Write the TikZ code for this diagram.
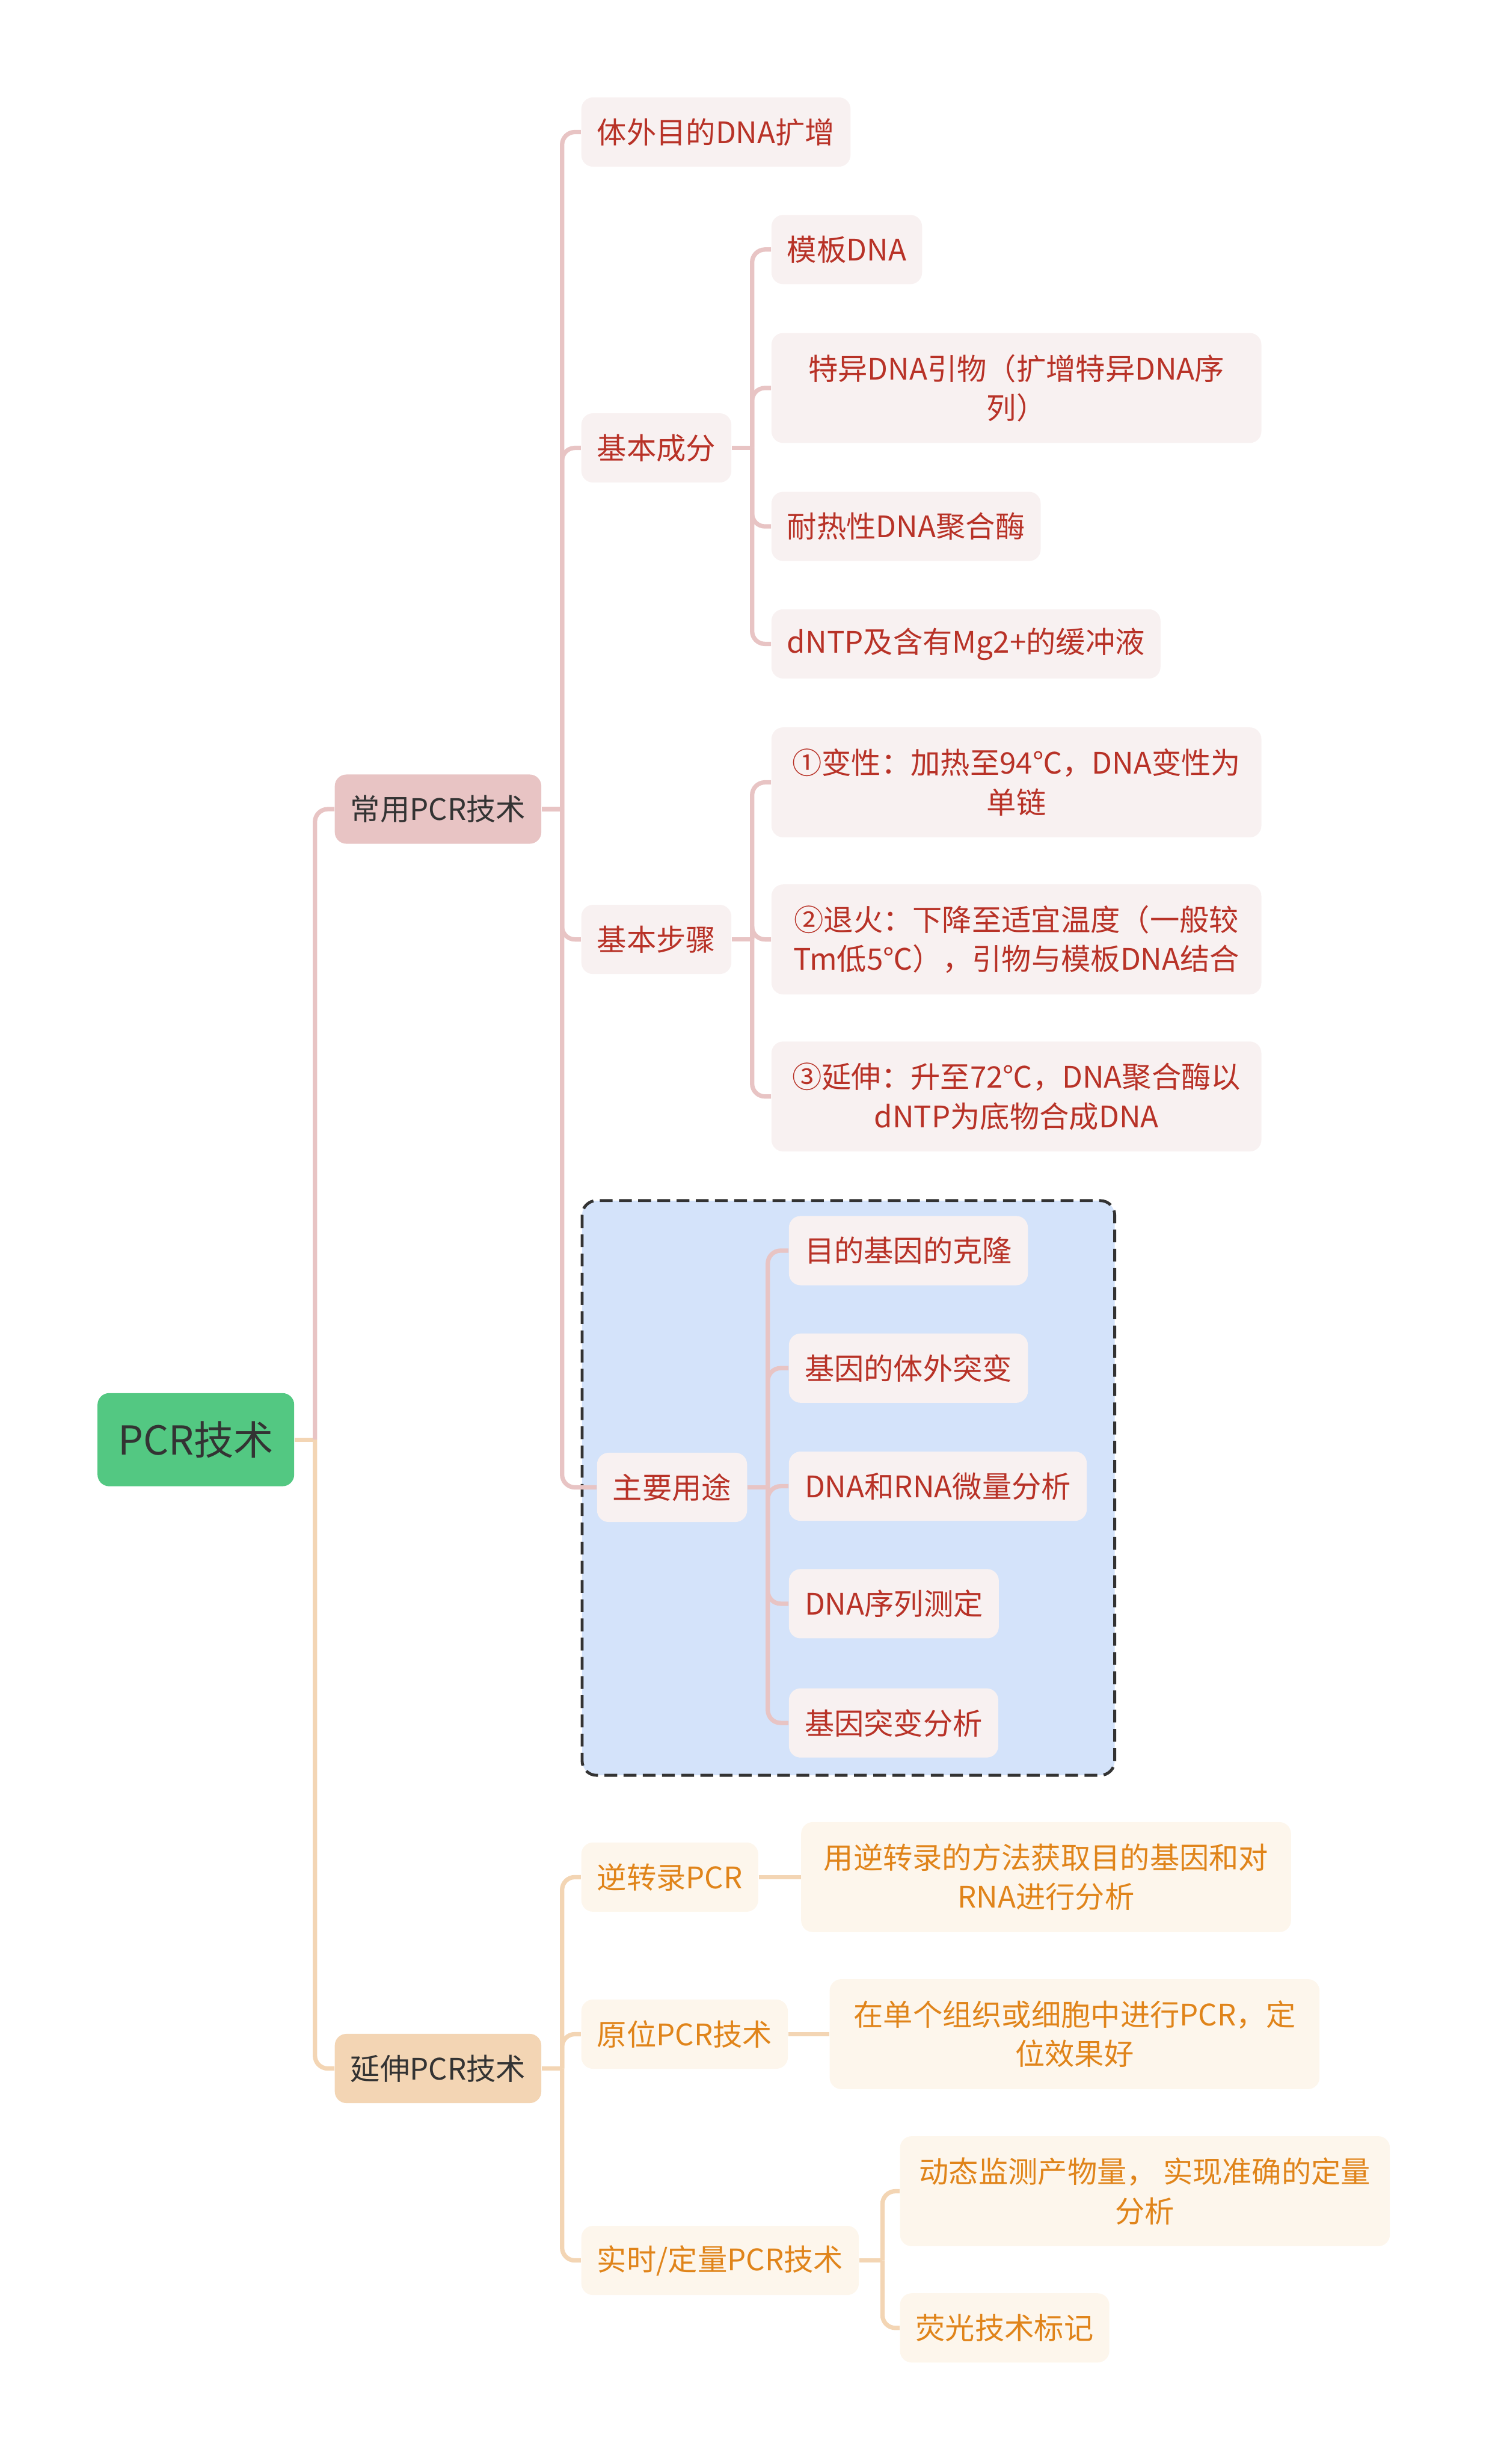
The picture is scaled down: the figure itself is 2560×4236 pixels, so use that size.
\documentclass[tikz,border=0pt]{standalone}
\usepackage{fontspec}
\setmainfont{Noto Sans CJK SC}
\usetikzlibrary{calc}

\begin{document}
\begin{tikzpicture}[x=0.01cm, y=-0.01cm]
    % Define colours
    \definecolor{rootFill}{HTML}{53C882}
    \definecolor{darkText}{HTML}{333333}
    \definecolor{pinkLine}{HTML}{E8C4C4}
    \definecolor{pinkLeaf}{HTML}{F8F1F1}
    \definecolor{pinkText}{HTML}{B83227}
    \definecolor{peachLine}{HTML}{F3D5B4}
    \definecolor{peachLeaf}{HTML}{FDF6EC}
    \definecolor{peachText}{HTML}{E0841A}
    \definecolor{boxFill}{HTML}{D4E3FA}

    % Define styles
    \tikzset{
        base/.style={rounded corners=0.2cm, inner xsep=0.27cm, inner ysep=0pt,
            minimum height=1.19cm, align=center, anchor=west,
            font=\fontsize{14.5}{19.2}\selectfont},
        rootNode/.style={base, fill=rootFill, text=darkText, minimum width=3.38cm,
            minimum height=1.6cm, font=\fontsize{19.5}{24}\selectfont},
        pinkMain/.style={base, fill=pinkLine, text=darkText},
        peachMain/.style={base, fill=peachLine, text=darkText},
        pinkLeafNode/.style={base, fill=pinkLeaf, text=pinkText},
        peachLeafNode/.style={base, fill=peachLeaf, text=peachText},
        twoLine/.style={minimum width=8.42cm, minimum height=1.89cm},
        pinkConn/.style={draw=pinkLine, line width=0.075cm, rounded corners=0.22cm},
        peachConn/.style={draw=peachLine, line width=0.075cm, rounded corners=0.22cm},
        dashBox/.style={draw=darkText, fill=boxFill, line width=0.05cm,
            dash pattern=on 0.22cm off 0.11cm, rounded corners=0.25cm}
    }

    % Fix the canvas
    \useasboundingbox (0,0) rectangle (2560,4236);

    % Draw the box round the uses
    \draw[dashBox] (1001,2064) rectangle (1917,3052);

    % Root and main branches
    \node[rootNode] (root) at (167,2475) {PCR技术};
    \node[pinkMain] (common) at (575,1391) {常用PCR技术};
    \node[peachMain] (extend) at (575,3556) {延伸PCR技术};

    % Common techniques
    \node[pinkLeafNode] (inVitro) at (999,227) {体外目的DNA扩增};
    \node[pinkLeafNode] (components) at (999,770) {基本成分};
    \node[pinkLeafNode] (steps) at (999,1615) {基本步骤};
    \node[pinkLeafNode] (uses) at (1026,2557) {主要用途};

    % Basic components
    \node[pinkLeafNode] (template) at (1326,429) {模板DNA};
    \node[pinkLeafNode, twoLine] (primer) at (1326,667) {特异DNA引物（扩增特异DNA序\\列）};
    \node[pinkLeafNode] (polymerase) at (1326,905) {耐热性DNA聚合酶};
    \node[pinkLeafNode] (buffer) at (1326,1107) {dNTP及含有Mg2+的缓冲液};

    % Basic steps
    \node[pinkLeafNode, twoLine] (denature) at (1326,1345) {①变性：加热至94℃，DNA变性为\\单链};
    \node[pinkLeafNode, twoLine] (anneal) at (1326,1615) {②退火：下降至适宜温度（一般较\\Tm低5℃），引物与模板DNA结合};
    \node[pinkLeafNode, twoLine] (elongate) at (1326,1885) {③延伸：升至72℃，DNA聚合酶以\\dNTP为底物合成DNA};

    % Main uses
    \node[pinkLeafNode] (cloning) at (1356,2150) {目的基因的克隆};
    \node[pinkLeafNode] (mutagenesis) at (1356,2352) {基因的体外突变};
    \node[pinkLeafNode] (microAnalysis) at (1356,2555) {DNA和RNA微量分析};
    \node[pinkLeafNode] (sequencing) at (1356,2757) {DNA序列测定};
    \node[pinkLeafNode] (mutationAnalysis) at (1356,2962) {基因突变分析};

    % Extended techniques
    \node[peachLeafNode] (reverse) at (999,3227) {逆转录PCR};
    \node[peachLeafNode] (inSitu) at (999,3497) {原位PCR技术};
    \node[peachLeafNode] (realTime) at (999,3886) {实时/定量PCR技术};
    \node[peachLeafNode, twoLine] (reverseNote) at (1377,3227) {用逆转录的方法获取目的基因和对\\RNA进行分析};
    \node[peachLeafNode, twoLine] (inSituNote) at (1426,3497) {在单个组织或细胞中进行PCR，定\\位效果好};
    \node[peachLeafNode, twoLine] (monitor) at (1547,3767) {动态监测产物量， 实现准确的定量\\分析};
    \node[peachLeafNode] (fluorescence) at (1547,4002) {荧光技术标记};

    % Draw connectors from the root
    \draw[peachConn] (root.east) -- ++(35,0) coordinate (rootJoint);
    \draw[pinkConn] (rootJoint) |- (common.west);
    \draw[peachConn] (rootJoint) |- (extend.west);

    % Draw connectors of the common branch
    \draw[pinkConn] (common.east) -- ++(35,0) coordinate (commonJoint);
    \foreach \n in {inVitro, components, steps, uses}
        \draw[pinkConn] (commonJoint) |- (\n.west);

    \draw[pinkConn] (components.east) -- ++(35,0) coordinate (componentsJoint);
    \foreach \n in {template, primer, polymerase, buffer}
        \draw[pinkConn] (componentsJoint) |- (\n.west);

    \draw[pinkConn] (steps.east) -- ++(35,0) coordinate (stepsJoint);
    \foreach \n in {denature, anneal, elongate}
        \draw[pinkConn] (stepsJoint) |- (\n.west);

    \draw[pinkConn] (uses.east) -- ++(35,0) coordinate (usesJoint);
    \foreach \n in {cloning, mutagenesis, microAnalysis, sequencing, mutationAnalysis}
        \draw[pinkConn] (usesJoint) |- (\n.west);

    % Draw connectors of the extended branch
    \draw[peachConn] (extend.east) -- ++(35,0) coordinate (extendJoint);
    \foreach \n in {reverse, inSitu, realTime}
        \draw[peachConn] (extendJoint) |- (\n.west);

    \draw[peachConn] (reverse.east) -- (reverseNote.west);
    \draw[peachConn] (inSitu.east) -- (inSituNote.west);

    \draw[peachConn] (realTime.east) -- ++(40,0) coordinate (realTimeJoint);
    \foreach \n in {monitor, fluorescence}
        \draw[peachConn] (realTimeJoint) |- (\n.west);

\end{tikzpicture}
\end{document}
